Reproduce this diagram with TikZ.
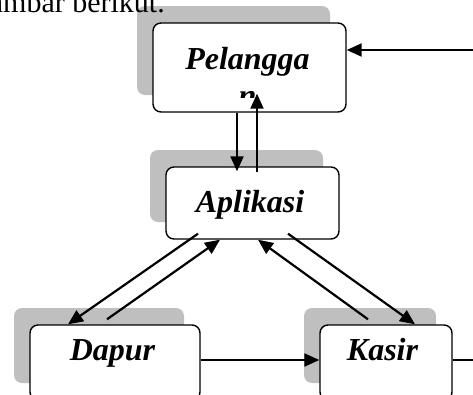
\documentclass[tikz,border=0pt]{standalone}
\usepackage{fontspec}
\setmainfont{Liberation Serif}
\usetikzlibrary{arrows.meta,shadows}
\tikzset{
    box/.style={
        draw,
        fill=white,
        rounded corners=8pt,
        line width=1.4pt,
        inner sep=0pt,
        general shadow={fill=black!25, shadow xshift=-16pt, shadow yshift=17pt}
    },
    lbl/.style={
        anchor=base,
        inner sep=0pt,
        font=\fontsize{32}{38}\selectfont\bfseries\itshape
    },
    flow/.style={
        line width=2.2pt,
        -{Triangle[length=15pt,width=13pt]}
    }
}

\begin{document}
\begin{tikzpicture}[x=1pt,y=-1pt]
\useasboundingbox (0,0) rectangle (473,394);
\node[box,minimum width=193pt,minimum height=89pt] (pel) at (249.5,67.5) {};
\node[box,minimum width=173pt,minimum height=72pt] (apl) at (252.5,203) {};
\node[box,minimum width=170pt,minimum height=75pt] (dapur) at (115,362.5) {};
\node[box,minimum width=132pt,minimum height=75pt] (kasir) at (386,362.5) {};
\node[anchor=base east,inner sep=0pt,font=\fontsize{30}{36}\selectfont] (cap) at (165,12) {ambar berikut.};
\node[lbl] (peltxt) at (247.5,69) {Pelangga};
\begin{scope}
  \clip (0,0) rectangle (473,97);
  \node[lbl] (peln) at (247.5,106) {n};
\end{scope}
\node[lbl] (apltxt) at (250,212) {Aplikasi};
\node[lbl] (dapurtxt) at (112.5,360) {Dapur};
\node[lbl] (kasirtxt) at (382.5,360) {Kasir};
\coordinate (pin) at (480,50);
\coordinate (kout) at (480,360);
\path[flow]
  (pin) edge (pin -| pel.east)
  ([xshift=-12.5pt]pel.south) edge ([xshift=-12.5pt,yshift=-5pt]pel.south |- apl.north)
  ([xshift=4.5pt,yshift=-6pt]apl.north) edge ([xshift=7.5pt,yshift=19pt]pel.south)
  ([xshift=-54.5pt,yshift=6pt]apl.south) edge ([xshift=-47pt]dapur.north)
  ([xshift=-8pt,yshift=5pt]dapur.north) edge ([xshift=-32.5pt]apl.south)
  ([xshift=35.5pt,yshift=6pt]apl.south) edge ([xshift=29pt]kasir.north)
  ([xshift=-18pt,yshift=5pt]kasir.north) edge ([xshift=5.5pt]apl.south)
  ([yshift=2.5pt]dapur.east) edge ([yshift=2.5pt]kasir.west);
\draw[line width=2.2pt] ([yshift=2.5pt]kasir.east) -- (kout);
\end{tikzpicture}
\end{document}
